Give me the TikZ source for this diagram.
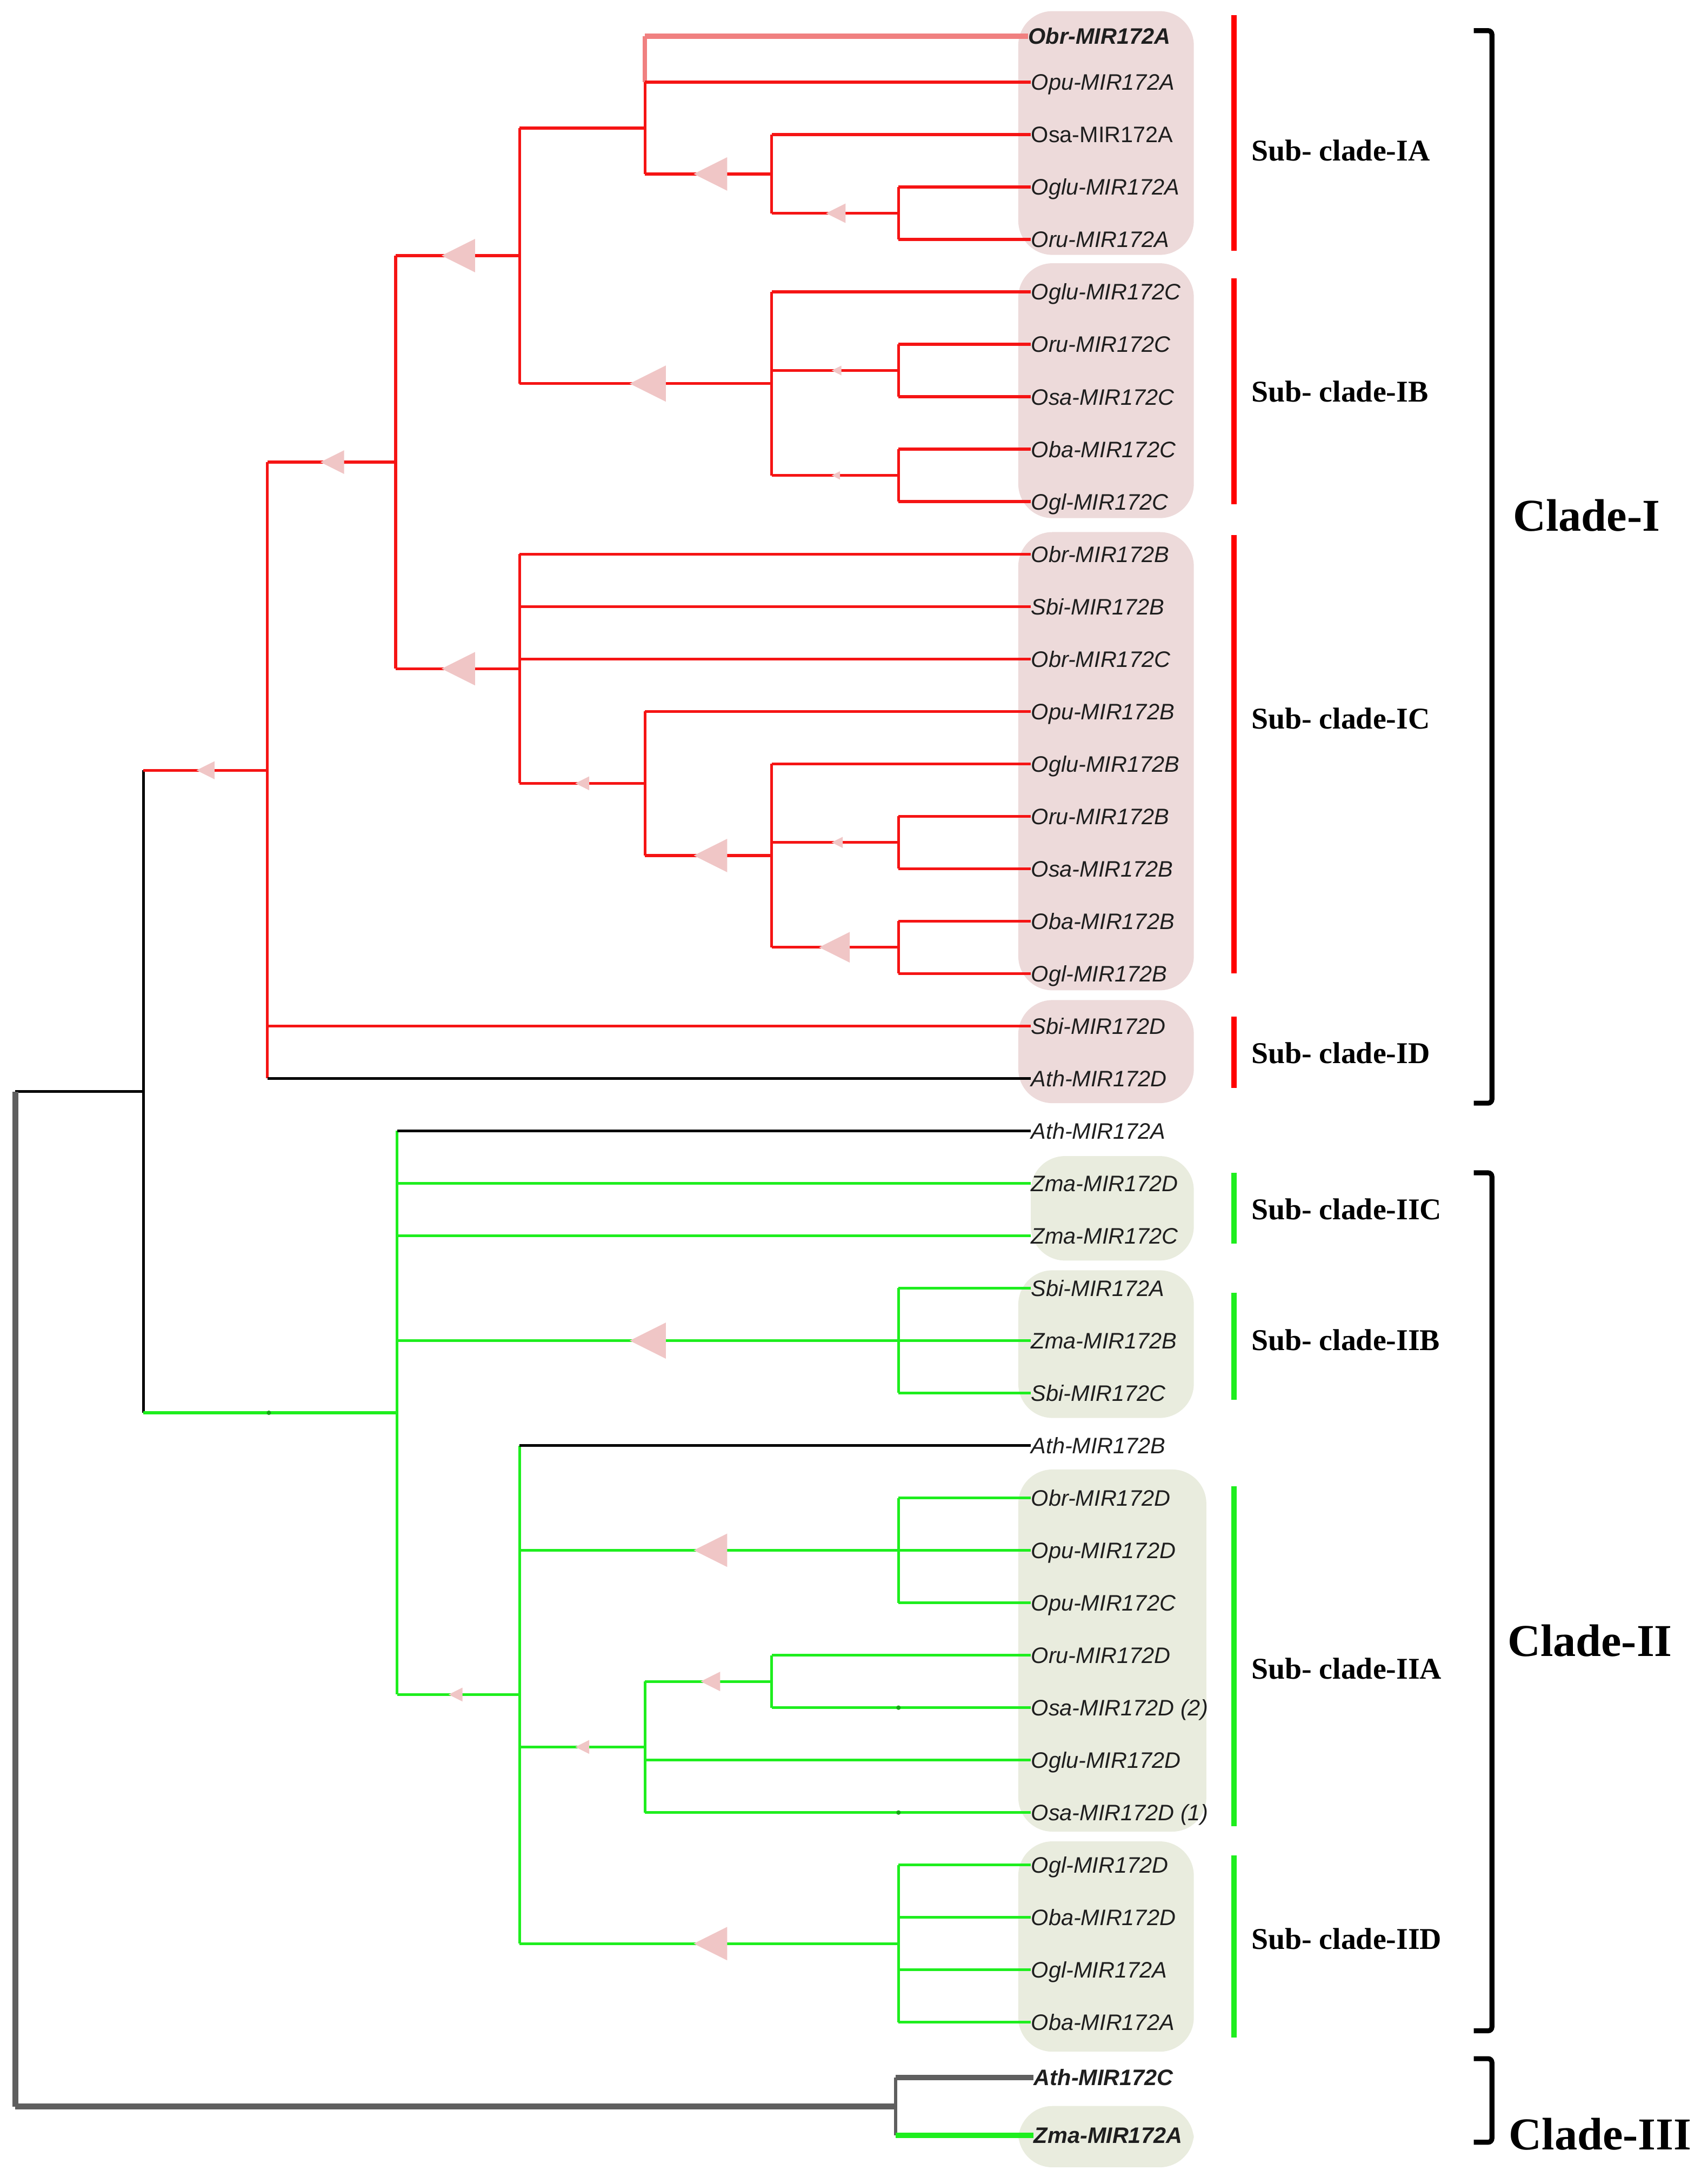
\documentclass[tikz,border=0pt]{standalone}
\usepackage{fontspec}
\setmainfont{Liberation Serif}
\setsansfont{Liberation Sans}
\newfontfamily\leaffam{Liberation Sans}
\definecolor{cred}{RGB}{245,20,20}
\definecolor{cgrn}{RGB}{30,238,30}
\definecolor{cpinkbr}{RGB}{240,128,128}
\definecolor{cgray}{RGB}{95,95,95}
\definecolor{tripink}{RGB}{240,198,198}
\definecolor{boxpink}{RGB}{237,218,218}
\definecolor{boxgrn}{RGB}{233,236,222}
\definecolor{ctext}{RGB}{30,30,30}
\newcommand\leaffont{\leaffam\fontsize{11.8pt}{14pt}\selectfont}
\newcommand\subfont{\rmfamily\bfseries\fontsize{15.9pt}{18pt}\selectfont}
\newcommand\cladefont{\rmfamily\bfseries\fontsize{24pt}{27pt}\selectfont}
\newcommand\tri[3]{\fill[tripink] (#1,#2) -- ++(#3,-#3/2) -- ++(0,#3) -- cycle;}
\begin{document}
\begin{tikzpicture}[x=0.02578cm,y=-0.02578cm,
  br/.style={line width=1.5pt},
  redb/.style={br,draw=cred},
  grnb/.style={br,draw=cgrn},
  blkb/.style={br,draw=black},
  leaf/.style={anchor=west,inner sep=0pt,text height=8.5pt,text depth=0pt,font=\leaffont,text=ctext},
  hbox/.style={rounded corners=18},
  subbar/.style={line width=2.8pt},
  sublab/.style={anchor=west,inner sep=0pt,font=\subfont},
  cladelab/.style={anchor=west,inner sep=0pt,font=\cladefont},
  brack/.style={line width=2.6pt,rounded corners=2}]
\useasboundingbox (0,0) rectangle (1221,1568);
% highlight boxes
\fill[boxpink,hbox] (731,8) rectangle (857,183);
\fill[boxpink,hbox] (731,189) rectangle (857,372);
\fill[boxpink,hbox] (731,382) rectangle (857,711);
\fill[boxpink,hbox] (731,718) rectangle (857,792);
\fill[boxgrn,hbox] (740,830) rectangle (857,905);
\fill[boxgrn,hbox] (731,912) rectangle (857,1018);
\fill[boxgrn,hbox] (731,1055) rectangle (866,1315);
\fill[boxgrn,hbox] (731,1322) rectangle (857,1473);
\fill[boxgrn,hbox] (731,1512) rectangle (857,1556);
% leaves
\node[leaf,font=\leaffont\bfseries\itshape] (lobra) at (738,26) {Obr-MIR172A};
\foreach \i/\t in {1/Opu-MIR172A,3/Oglu-MIR172A,4/Oru-MIR172A,5/Oglu-MIR172C,6/Oru-MIR172C,7/Osa-MIR172C,8/Oba-MIR172C,9/Ogl-MIR172C,10/Obr-MIR172B,11/Sbi-MIR172B,12/Obr-MIR172C,13/Opu-MIR172B,14/Oglu-MIR172B,15/Oru-MIR172B,16/Osa-MIR172B,17/Oba-MIR172B,18/Ogl-MIR172B,19/Sbi-MIR172D,20/Ath-MIR172D,21/Ath-MIR172A,22/Zma-MIR172D,23/Zma-MIR172C,24/Sbi-MIR172A,25/Zma-MIR172B,26/Sbi-MIR172C,27/Ath-MIR172B,28/Obr-MIR172D,29/Opu-MIR172D,30/Opu-MIR172C,31/Oru-MIR172D,32/Osa-MIR172D (2),33/Oglu-MIR172D,34/Osa-MIR172D (1),35/Ogl-MIR172D,36/Oba-MIR172D,37/Ogl-MIR172A,38/Oba-MIR172A}
  {\node[leaf,font=\leaffont\itshape] (l\i) at (740,{58.96+37.646*(\i-1)}) {\t};}
\node[leaf] (l2) at (740,96.6) {Osa-MIR172A};
\node[leaf,font=\leaffont\bfseries\itshape] (lathc) at (742,1491.5) {Ath-MIR172C};
\node[leaf,font=\leaffont\bfseries\itshape] (lzmaa) at (742,1533) {Zma-MIR172A};
% internal nodes
\coordinate (nIA3) at (645,153.1);
\coordinate (nIA2) at (554,124.9);
\coordinate (nIA1) at (463,92);
\coordinate (nIAB) at (373,183.5);
\coordinate (nIB2) at (645,266);
\coordinate (nIB3) at (645,341.3);
\coordinate (nIB1) at (554,275.4);
\coordinate (nIABC) at (284,331.8);
\coordinate (nIC4) at (645,604.8);
\coordinate (nIC5) at (645,680.1);
\coordinate (nIC3) at (554,614.2);
\coordinate (nIC2) at (463,562.4);
\coordinate (nIC1) at (373,480.1);
\coordinate (nI) at (192,553);
\coordinate (nIIB) at (645,962.5);
\coordinate (nIIA1) at (645,1113);
\coordinate (nIIA3) at (554,1207.2);
\coordinate (nIIA2) at (463,1254.2);
\coordinate (nIID) at (645,1395.4);
\coordinate (nIIL) at (373,1216.6);
\coordinate (nII) at (285,1014.3);
\coordinate (nIII) at (103,783.7);
\coordinate (nC3) at (643,1512.3);
\coordinate (root) at (11,1148);
% ---- Clade I verticals
\draw[redb] (nIA3|-l3.west) -- (nIA3|-l4.west);
\draw[redb] (nIA2|-l2.west) -- (nIA2|-nIA3);
\draw[line width=2.3pt,draw=cpinkbr] (nIA1|-lobra.west) -- (nIA1|-l1.west);
\draw[redb] (nIA1|-l1.west) -- (nIA1|-nIA2);
\draw[redb] (nIAB|-nIA1) -- (nIAB|-nIB1);
\draw[redb] (nIB2|-l6.west) -- (nIB2|-l7.west);
\draw[redb] (nIB3|-l8.west) -- (nIB3|-l9.west);
\draw[redb] (nIB1|-l5.west) -- (nIB1|-nIB3);
\draw[redb] (nIABC|-nIAB) -- (nIABC|-nIC1);
\draw[redb] (nIC4|-l15.west) -- (nIC4|-l16.west);
\draw[redb] (nIC5|-l17.west) -- (nIC5|-l18.west);
\draw[redb] (nIC3|-l14.west) -- (nIC3|-nIC5);
\draw[redb] (nIC2|-l13.west) -- (nIC2|-nIC3);
\draw[redb] (nIC1|-l10.west) -- (nIC1|-nIC2);
\draw[redb] (nI|-nIABC) -- (nI|-l20.west);
% ---- Clade I horizontals
\draw[line width=2.6pt,draw=cpinkbr] (nIA1|-lobra.west) -- (lobra.west);
\draw[redb] (nIA1|-l1.west) -- (l1.west);
\draw[redb] (nIA2|-l2.west) -- (l2.west);
\draw[redb] (nIA2|-nIA3) -- (nIA3);
\draw[redb] (nIA3|-l3.west) -- (l3.west);
\draw[redb] (nIA3|-l4.west) -- (l4.west);
\draw[redb] (nIA1|-nIA2) -- (nIA2);
\draw[redb] (nIAB|-nIA1) -- (nIA1);
\draw[redb] (nIAB|-nIB1) -- (nIB1);
\draw[redb] (nIB1|-l5.west) -- (l5.west);
\draw[redb] (nIB1|-nIB2) -- (nIB2);
\draw[redb] (nIB1|-nIB3) -- (nIB3);
\draw[redb] (nIB2|-l6.west) -- (l6.west);
\draw[redb] (nIB2|-l7.west) -- (l7.west);
\draw[redb] (nIB3|-l8.west) -- (l8.west);
\draw[redb] (nIB3|-l9.west) -- (l9.west);
\draw[redb] (nIABC|-nIAB) -- (nIAB);
\draw[redb] (nIABC|-nIC1) -- (nIC1);
\draw[redb] (nIC1|-l10.west) -- (l10.west);
\draw[redb] (nIC1|-l11.west) -- (l11.west);
\draw[redb] (nIC1|-l12.west) -- (l12.west);
\draw[redb] (nIC1|-nIC2) -- (nIC2);
\draw[redb] (nIC2|-l13.west) -- (l13.west);
\draw[redb] (nIC2|-nIC3) -- (nIC3);
\draw[redb] (nIC3|-l14.west) -- (l14.west);
\draw[redb] (nIC3|-nIC4) -- (nIC4);
\draw[redb] (nIC3|-nIC5) -- (nIC5);
\draw[redb] (nIC4|-l15.west) -- (l15.west);
\draw[redb] (nIC4|-l16.west) -- (l16.west);
\draw[redb] (nIC5|-l17.west) -- (l17.west);
\draw[redb] (nIC5|-l18.west) -- (l18.west);
\draw[redb] (nI|-nIABC) -- (nIABC);
\draw[redb] (nI|-l19.west) -- (l19.west);
\draw[blkb] (nI|-l20.west) -- (l20.west);
% ---- Clade II verticals
\draw[grnb] (nIIB|-l24.west) -- (nIIB|-l26.west);
\draw[grnb] (nIIA1|-l28.west) -- (nIIA1|-l30.west);
\draw[grnb] (nIIA3|-l31.west) -- (nIIA3|-l32.west);
\draw[grnb] (nIIA2|-nIIA3) -- (nIIA2|-l34.west);
\draw[grnb] (nIID|-l35.west) -- (nIID|-l38.west);
\draw[grnb] (nIIL|-l27.west) -- (nIIL|-nIID);
\draw[grnb] (nII|-l21.west) -- (nII|-nIIL);
% ---- Clade II horizontals
\foreach \i in {24,25,26} {\draw[grnb] (nIIB|-l\i.west) -- (l\i.west);}
\foreach \i in {28,29,30} {\draw[grnb] (nIIA1|-l\i.west) -- (l\i.west);}
\foreach \i in {31,32} {\draw[grnb] (nIIA3|-l\i.west) -- (l\i.west);}
\foreach \i in {33,34} {\draw[grnb] (nIIA2|-l\i.west) -- (l\i.west);}
\draw[grnb] (nIIA2|-nIIA3) -- (nIIA3);
\foreach \i in {35,36,37,38} {\draw[grnb] (nIID|-l\i.west) -- (l\i.west);}
\draw[blkb] (nIIL|-l27.west) -- (l27.west);
\draw[grnb] (nIIL|-nIIA1) -- (nIIA1);
\draw[grnb] (nIIL|-nIIA2) -- (nIIA2);
\draw[grnb] (nIIL|-nIID) -- (nIID);
\draw[blkb] (nII|-l21.west) -- (l21.west);
\draw[grnb] (nII|-l22.west) -- (l22.west);
\draw[grnb] (nII|-l23.west) -- (l23.west);
\draw[grnb] (nII|-nIIB) -- (nIIB);
\draw[grnb] (nII|-nIIL) -- (nIIL);
% ---- deep nodes
\draw[blkb] (nIII|-nI) -- (nIII|-nII);
\draw[redb] (nIII|-nI) -- (nI);
\draw[grnb] (nIII|-nII) -- (nII);
\draw[blkb] (root|-nIII) -- (nIII);
\draw[line width=3.1pt,draw=cgray] (root|-nIII) -- (root|-nC3);
\draw[line width=3pt,draw=cgray] (root|-nC3) -- (nC3);
\draw[line width=1.8pt,draw=cgray] (nC3|-lathc.west) -- (nC3|-lzmaa.west);
\draw[line width=2.8pt,draw=cgray] (nC3|-lathc.west) -- (lathc.west);
\draw[line width=2.8pt,draw=cgrn] (nC3|-lzmaa.west) -- (lzmaa.west);
% tiny marks
\fill[cgrn!70!black] (193,1014.3) circle (1.6);
\fill[cgrn!70!black] (645,1226) circle (1.6);
\fill[cgrn!70!black] (645,1301.3) circle (1.6);
% triangles (tip x, y, size)
\tri{141}{553}{13}
\tri{230}{331.8}{17}
\tri{317}{183.5}{24}
\tri{317}{480.1}{24}
\tri{452}{275.4}{26}
\tri{498}{124.9}{24}
\tri{593}{153.1}{14}
\tri{597}{266}{7}
\tri{597}{341.3}{6}
\tri{413}{562.4}{10}
\tri{498}{614.2}{24}
\tri{597}{604.8}{8}
\tri{588}{680.1}{22}
\tri{452}{962.5}{26}
\tri{498}{1113}{24}
\tri{322}{1216.6}{10}
\tri{413}{1254.2}{10}
\tri{503}{1207.2}{14}
\tri{498}{1395.4}{24}
% sub-clade bars
\draw[subbar,red] (886,11) -- (886,180);
\draw[subbar,red] (886,200) -- (886,362);
\draw[subbar,red] (886,384) -- (886,699);
\draw[subbar,red] (886,730) -- (886,781);
\draw[subbar,cgrn] (886,842) -- (886,893);
\draw[subbar,cgrn] (886,928) -- (886,1005);
\draw[subbar,cgrn] (886,1067) -- (886,1311);
\draw[subbar,cgrn] (886,1332) -- (886,1463);
% sub-clade labels
\node[sublab] (sIA) at (898,108) {Sub- clade-IA};
\node[sublab] (sIB) at (898,281) {Sub- clade-IB};
\node[sublab] (sIC) at (898,516) {Sub- clade-IC};
\node[sublab] (sID) at (898,756) {Sub- clade-ID};
\node[sublab] (sIIC) at (898,868) {Sub- clade-IIC};
\node[sublab] (sIIB) at (898,962) {Sub- clade-IIB};
\node[sublab] (sIIA) at (898,1198) {Sub- clade-IIA};
\node[sublab] (sIID) at (898,1392) {Sub- clade-IID};
% brackets
\draw[brack] (1058,22) -- (1071,22) -- (1071,792) -- (1058,792);
\draw[brack] (1058,842) -- (1071,842) -- (1071,1458) -- (1058,1458);
\draw[brack] (1058,1478) -- (1071,1478) -- (1071,1538) -- (1058,1538);
\node[cladelab] (cI) at (1086,370) {Clade-I};
\node[cladelab] (cII) at (1082,1178) {Clade-II};
\node[cladelab] (cIII) at (1083,1532) {Clade-III};
\end{tikzpicture}
\end{document}
